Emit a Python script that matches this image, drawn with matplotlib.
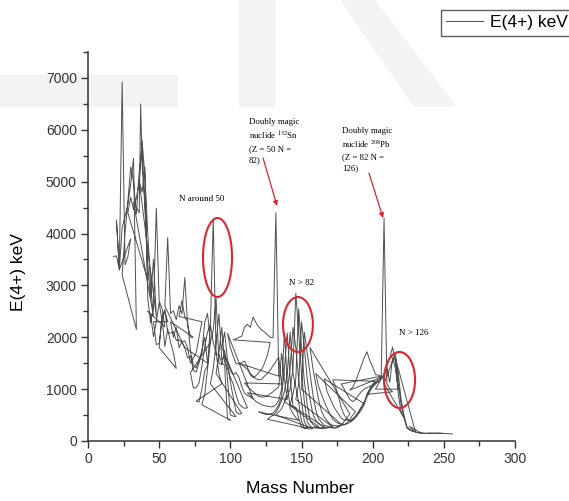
import matplotlib.pyplot as plt
from matplotlib.patches import Ellipse, Rectangle, Polygon
from matplotlib.ticker import MultipleLocator

plt.rcParams['font.family'] = ['Liberation Sans', 'DejaVu Sans']
plt.rcParams['mathtext.fontset'] = 'stix'

################################## Data ########################################
# E(4+) of even-even nuclei, isotopic chains in order of Z (one connected trace)

# Z = 8 .. 30
light_mass = [
    18, 20, 22,                                      # O
    20, 22, 24, 26, 28, 30,                          # Ne
    22, 24, 26, 28, 30, 32, 34,                      # Mg
    24, 26, 28, 30, 32, 34, 36, 38, 40, 42,          # Si
    28, 30, 32, 34, 36, 38, 40, 42, 44, 46,          # S
    32, 34, 36, 37, 38, 40, 42, 44, 46, 48,          # Ar
    36, 38, 40, 42, 44, 46, 48, 50, 52, 54,          # Ca
    42, 44, 46, 48, 50, 52, 54, 56,                  # Ti
    46, 48, 50, 52, 54, 56, 58, 60, 62,              # Cr
    50, 52, 54, 56, 58, 60, 62, 64, 66, 68,          # Fe
    54, 56, 58, 60, 62, 64, 66, 68, 70, 72, 74,      # Ni
    58, 60, 62, 64, 66, 68, 70, 72, 74, 76, 78, 80,  # Zn
]
light_e4 = [
    3555, 3570, 3300,
    4250, 3360, 6920, 3400, 3550, 3900,
    3300, 4120, 4320, 4560, 4950, 5450, 2150,
    3200, 4000, 4620, 5280, 5000, 4380, 5200, 5600, 4600, 3100,
    4400, 4700, 4460, 4690, 5000, 5800, 5100, 4000, 3000, 2400,
    4600, 4500, 4400, 6500, 5350, 4500, 3400, 2750, 3500, 2400,
    5000, 4800, 5280, 2750, 2280, 2580, 4490, 2700, 2560, 2200,
    2500, 2450, 2010, 2300, 2670, 2320, 2500, 2300,
    2300, 1860, 1880, 2370, 1820, 2160, 1900, 1700, 1400,
    1800, 2380, 2540, 2090, 2080, 2110, 1940, 1950, 1900, 1800,
    2600, 3920, 2460, 2510, 2340, 2610, 2450, 3150, 2230, 2000, 2000,
    2300, 2000, 2190, 1800, 1920, 1930, 1790, 1500, 1600, 1700, 2000, 2300,
]

# Z = 32 .. 50
mid_mass = [
    64, 66, 68, 70, 72, 74, 76, 78, 80, 82, 84,                               # Ge
    68, 70, 72, 74, 76, 78, 80, 82, 84, 86,                                   # Se
    72, 74, 76, 78, 80, 82, 84, 86, 88, 90, 92, 94,                           # Kr
    76, 78, 80, 82, 84, 86, 88, 90, 92, 94, 96, 98, 100,                      # Sr
    80, 82, 84, 86, 88, 90, 92, 94, 96, 98, 100, 102, 104,                    # Zr
    86, 88, 90, 92, 94, 96, 98, 100, 102, 104, 106, 108,                      # Mo
    90, 92, 94, 96, 98, 100, 102, 104, 106, 108, 110, 112,                    # Ru
    94, 96, 98, 100, 102, 104, 106, 108, 110, 112, 114, 116,                  # Pd
    98, 100, 102, 104, 106, 108, 110, 112, 114, 116, 118, 120, 122, 124, 126, 128,       # Cd
    102, 104, 106, 108, 110, 112, 114, 116, 118, 120, 122, 124, 126, 128, 130, 132, 134,  # Sn
]
mid_e4 = [
    2400, 2700, 2400, 2300, 1730, 1460, 1410, 1570, 1740, 2000, 1500,
    1800, 1600, 1640, 1360, 1330, 1500, 1700, 2290, 2460, 1900,
    1320, 1020, 1030, 1120, 1440, 1820, 2100, 2250, 1900, 1700, 1300, 1100,
    770, 750, 1000, 1350, 1450, 2230, 4260, 1660, 1670, 1500, 1460, 434, 400,
    700, 900, 1400, 1900, 2140, 2750, 1500, 1470, 1750, 1200, 500, 480, 470,
    1100, 1400, 1900, 2450, 1570, 1630, 1510, 1140, 850, 560, 520, 530,
    1300, 1700, 2190, 1520, 1400, 1230, 1100, 890, 720, 660, 630, 640,
    1800, 2100, 1560, 1360, 1280, 1320, 1230, 1050, 920, 880, 850, 810,
    2080, 1800, 1640, 1490, 1490, 1510, 1540, 1420, 1280, 1220, 1260, 1320, 1380, 1500, 1650, 1900,
    1950, 1970, 2000, 2020, 2200, 2250, 2190, 2390, 2280, 2200, 2140, 2100, 2050, 2000, 1990, 4400, 1250,
]

# Z = 52 .. 70
rare_mass = [
    106, 108, 110, 112, 114, 116, 118, 120, 122, 124, 126, 128, 130, 132, 134, 136,            # Te
    110, 112, 114, 116, 118, 120, 122, 124, 126, 128, 130, 132, 134, 136, 138, 140,            # Xe
    112, 114, 116, 118, 120, 122, 124, 126, 128, 130, 132, 134, 136, 138, 140, 142, 144, 146, 148,  # Ba
    120, 122, 124, 126, 128, 130, 132, 134, 136, 138, 140, 142, 144, 146, 148, 150, 152, 154,  # Ce
    126, 128, 130, 132, 134, 136, 138, 140, 142, 144, 146, 148, 150, 152, 154, 156, 158,       # Nd
    132, 134, 136, 138, 140, 142, 144, 146, 148, 150, 152, 154, 156, 158, 160, 162,            # Sm
    138, 140, 142, 144, 146, 148, 150, 152, 154, 156, 158, 160, 162, 164, 166,                 # Gd
    142, 144, 146, 148, 150, 152, 154, 156, 158, 160, 162, 164, 166, 168, 170, 172,            # Dy
    146, 148, 150, 152, 154, 156, 158, 160, 162, 164, 166, 168, 170, 172, 174, 176, 178,       # Er
    150, 152, 154, 156, 158, 160, 162, 164, 166, 168, 170, 172, 174, 176, 178, 180, 182, 184,  # Yb
]
rare_e4 = [
    1500, 1470, 1430, 1380, 1300, 1250, 1200, 1180, 1190, 1250, 1300, 1370, 1450, 1530, 1620, 1100,
    1120, 1050, 1000, 950, 900, 860, 850, 850, 870, 910, 950, 1000, 1040, 1690, 1200, 800,
    930, 880, 820, 760, 730, 700, 680, 670, 660, 660, 700, 780, 1000, 2090, 1130, 630, 530, 450, 400,
    560, 540, 520, 510, 520, 540, 600, 700, 850, 1400, 2080, 1220, 670, 650, 450, 260, 250, 250,
    420, 460, 500, 550, 650, 780, 950, 1300, 2100, 1310, 1040, 750, 380, 250, 240, 230, 240,
    500, 560, 620, 750, 950, 1400, 2190, 1800, 1180, 770, 370, 270, 260, 260, 270, 280,
    760, 850, 1000, 1400, 2850, 2100, 1300, 760, 370, 290, 260, 250, 245, 255, 270,
    700, 900, 1200, 2550, 1800, 1150, 700, 400, 320, 280, 265, 240, 240, 250, 260, 270,
    800, 1100, 2300, 1800, 1200, 800, 520, 400, 330, 300, 265, 265, 260, 250, 260, 290, 320,
    1000, 2100, 1700, 1300, 900, 600, 430, 360, 300, 290, 280, 260, 250, 270, 300, 380, 450, 520,
]

# Z = 72 .. 98
heavy_mass = [
    156, 158, 160, 162, 164, 166, 168, 170, 172, 174, 176, 178, 180, 182, 184, 186, 188,            # Hf
    160, 162, 164, 166, 168, 170, 172, 174, 176, 178, 180, 182, 184, 186, 188, 190, 192, 194,       # W
    166, 168, 170, 172, 174, 176, 178, 180, 182, 184, 186, 188, 190, 192, 194, 196, 198, 200, 202,  # Os
    172, 174, 176, 178, 180, 182, 184, 186, 188, 190, 192, 194, 196, 198, 200, 202, 204, 206,       # Pt
    178, 180, 182, 184, 186, 188, 190, 192, 194, 196, 198, 200, 202, 204, 206, 208,                 # Hg
    184, 186, 188, 190, 192, 194, 196, 198, 200, 202, 204, 206, 208, 210, 212, 214,                 # Pb
    196, 198, 200, 202, 204, 206, 208, 210, 212, 214, 216, 218,                                     # Po
    202, 204, 206, 208, 210, 212, 214, 216, 218, 220, 222,                                          # Rn
    208, 210, 212, 214, 216, 218, 220, 222, 224, 226, 228, 230,                                     # Ra
    216, 218, 220, 222, 224, 226, 228, 230, 232, 234,                                               # Th
    226, 228, 230, 232, 234, 236, 238, 240,                                                         # U
    234, 236, 238, 240, 242, 244, 246,                                                              # Pu
    240, 242, 244, 246, 248, 250,                                                                   # Cm
    246, 248, 250, 252, 254, 256,                                                                   # Cf
]
heavy_e4 = [
    1800, 1400, 1100, 800, 580, 460, 390, 330, 300, 295, 290, 305, 310, 350, 420, 500, 560,
    1300, 1050, 900, 760, 630, 520, 420, 370, 340, 330, 320, 330, 360, 400, 470, 550, 650, 720,
    1200, 950, 830, 700, 600, 520, 440, 400, 410, 390, 430, 480, 560, 650, 750, 900, 1000, 1100, 1150,
    1180, 1040, 850, 640, 500, 430, 380, 400, 450, 520, 600, 700, 850, 950, 1050, 1120, 1200, 1250,
    1100, 1000, 900, 800, 760, 800, 880, 950, 1000, 1030, 1050, 1080, 1120, 1150, 1200, 1250,
    980, 1040, 1150, 1300, 1450, 1600, 1720, 1550, 1430, 1280, 1270, 1240, 4300, 1100, 1000, 950,
    900, 1000, 1050, 1100, 1150, 1200, 1250, 1430, 1130, 1600, 1400, 1000,
    1000, 1100, 1200, 1300, 1450, 1600, 1810, 1500, 900, 550, 450,
    1100, 1250, 1400, 1550, 1700, 1100, 700, 450, 250, 210, 190, 180,
    1600, 1300, 800, 500, 280, 230, 190, 175, 160, 155,
    280, 220, 170, 160, 150, 145, 145, 150,
    150, 147, 145, 145, 146, 148, 150,
    150, 148, 146, 145, 145, 146,
    150, 147, 145, 144, 140, 135,
]

mass_number = light_mass + mid_mass + rare_mass + heavy_mass
e4_kev = light_e4 + mid_e4 + rare_e4 + heavy_e4

#################################### Plotting ##################################

W, H = 569, 501
fig = plt.figure(figsize=(W / 100, H / 100), dpi=100)

# faint watermark behind the plot
wm = '#f3f3f3'
fig.patches.append(Rectangle((0, 1 - 106 / H), 177 / W, 31 / H, transform=fig.transFigure,
                             color=wm, zorder=0))
fig.patches.append(Rectangle((239 / W, 1 - 106 / H), 35 / W, 106 / H, transform=fig.transFigure,
                             color=wm, zorder=0))
fig.patches.append(Polygon([(341 / W, 1), (374 / W, 1), (455 / W, 1 - 106 / H), (414 / W, 1 - 106 / H)],
                           closed=True, transform=fig.transFigure, color=wm, zorder=0))

ax = fig.add_axes([88 / W, 1 - 441 / H, 427 / W, 389 / H])
ax.set_zorder(2)
ax.patch.set_visible(False)

ax.plot(mass_number, e4_kev, color='#505050', lw=0.7, label='E(4+) keV')

ax.set_xlim(0, 300)
ax.set_ylim(0, 7500)
ax.xaxis.set_major_locator(MultipleLocator(50))
ax.xaxis.set_minor_locator(MultipleLocator(25))
ax.yaxis.set_major_locator(MultipleLocator(1000))
ax.yaxis.set_minor_locator(MultipleLocator(500))
ax.tick_params(which='both', direction='out', colors='#333333', labelsize=10, width=1.0)
ax.tick_params(which='major', length=5, pad=3)
ax.tick_params(which='minor', length=3.5)
for s in ['top', 'right']:
    ax.spines[s].set_visible(False)
for s in ['left', 'bottom']:
    ax.spines[s].set_color('#333333')
    ax.spines[s].set_linewidth(1.1)

ax.set_xlabel('Mass Number', fontsize=12.5)
ax.set_ylabel('E(4+) keV', fontsize=12.5)
ax.xaxis.set_label_coords(0.497, -0.123)
ax.xaxis.label.set_va('center')
ax.yaxis.set_label_coords(-0.162, 0.435)
ax.yaxis.label.set_va('center')

# red markers
red = '#d9282e'
for cx, cy, w, h in [(91.0, 3538, 20.4, 1523), (147.5, 2246, 21, 1060), (218.9, 1176, 21.8, 1080)]:
    ax.add_patch(Ellipse((cx, cy), w, h, fill=False, edgecolor=red, lw=1.5, zorder=3))

serif = ['Liberation Serif', 'DejaVu Serif']
ax.text(80.1, 4665, 'N around 50', family=serif, fontsize=6.5, ha='center', va='center')
ax.text(141.2, 3046, 'N > 82', family=serif, fontsize=6.5, ha='left', va='center')
ax.text(218.5, 2082, 'N > 126', family=serif, fontsize=6.5, ha='left', va='center')
ax.text(113.2, 6230, 'Doubly magic\nnuclide $^{132}$Sn\n(Z = 50 N =\n82)', family=serif,
        fontsize=6.3, ha='left', va='top', linespacing=1.45)
ax.text(178.5, 6060, 'Doubly magic\nnuclide $^{208}$Pb\n(Z = 82 N =\n126)', family=serif,
        fontsize=6.3, ha='left', va='top', linespacing=1.45)
arrow = dict(arrowstyle='-|>', color=red, lw=0.9, mutation_scale=7, shrinkA=0, shrinkB=0)
ax.annotate('', xy=(132.8, 4531), xytext=(123.0, 5456), arrowprops=arrow)
ax.annotate('', xy=(207.3, 4299), xytext=(197.4, 5167), arrowprops=arrow)

fig.legend(loc='upper left', bbox_to_anchor=(441 / W, 1 - 10 / H), borderaxespad=0,
           fontsize=12.5, frameon=True, fancybox=False, edgecolor='#333333',
           borderpad=0.3, handlelength=2.1, handletextpad=0.4)

fig.savefig('out.png', dpi=100)
